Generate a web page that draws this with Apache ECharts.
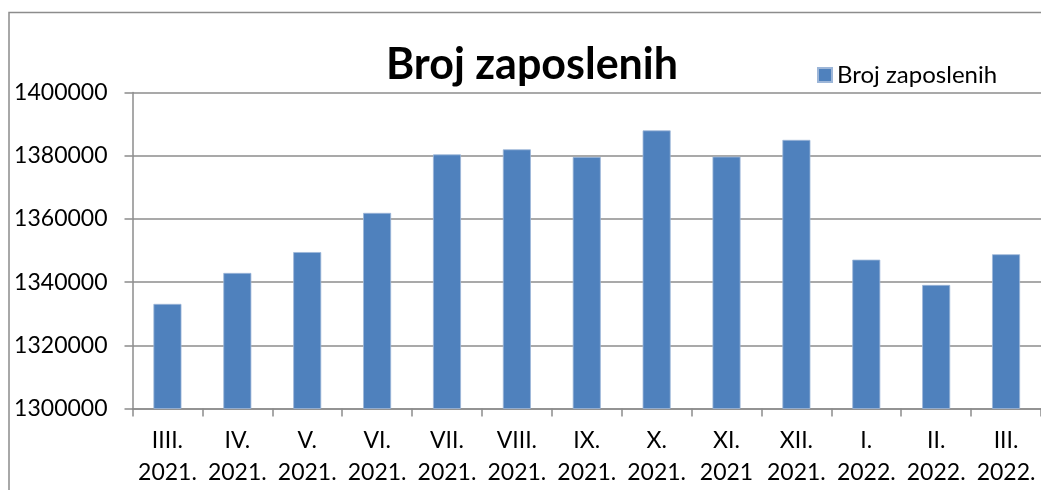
<!DOCTYPE html>
<html>
<head>
<meta charset="utf-8">
<script src="https://cdn.jsdelivr.net/npm/echarts@6/dist/echarts.min.js"></script>
<style>
html,body{margin:0;padding:0;background:#fff;}
#chart{width:1041px;height:490px;}
</style>
</head>
<body>
<div id="chart"></div>
<script>
const categories = ['IIII.\n2021.', 'IV.\n2021.', 'V.\n2021.', 'VI.\n2021.', 'VII.\n2021.', 'VIII.\n2021.', 'IX.\n2021.', 'X.\n2021.', 'XI.\n2021', 'XII.\n2021.', 'I.\n2022.', 'II.\n2022.', 'III.\n2022.'];
const seriesName = 'Broj zaposlenih';
const values = [1333100, 1342900, 1349500, 1361900, 1380400, 1382000, 1379600, 1388000, 1379700, 1385000, 1347100, 1339100, 1348800];
const yMin = 1300000;
const yMax = 1400000;
const yStep = 20000;

const FONT = 'Lato';
const chart = echarts.init(document.getElementById('chart'), null, {renderer: 'canvas'});
chart.setOption({
  backgroundColor: '#ffffff',
  animation: false,
  title: {
    text: 'Broj zaposlenih',
    left: 527,
    top: 39,
    textAlign: 'center',
    textStyle: {fontFamily: FONT, fontWeight: 'bold', fontSize: 43, color: '#000'}
  },
  legend: {
    data: [seriesName],
    left: 812,
    top: 58,
    itemWidth: 14,
    itemHeight: 14,
    itemGap: 8,
    icon: 'rect',
    textStyle: {fontFamily: FONT, fontSize: 24, color: '#000'}
  },
  graphic: [{
    type: 'rect',
    shape: {x: 9, y: 12.5, width: 1200, height: 700},
    style: {fill: 'none', stroke: '#8C8C8C', lineWidth: 1.5},
    silent: true,
    z: -1
  }],
  grid: {left: 132.5, top: 92.5, width: 914, height: 316, containLabel: false},
  xAxis: {
    type: 'category',
    data: categories,
    boundaryGap: true,
    axisLine: {show: true, lineStyle: {color: '#8C8C8C', width: 1.5}},
    axisTick: {show: true, inside: false, length: 8, alignWithLabel: false, lineStyle: {color: '#8C8C8C', width: 1.5}},
    axisLabel: {fontFamily: FONT, fontSize: 23, color: '#000', lineHeight: 32, margin: 16, interval: 0}
  },
  yAxis: {
    type: 'value',
    min: yMin,
    max: yMax,
    interval: yStep,
    axisLine: {show: true, lineStyle: {color: '#8C8C8C', width: 1.5}},
    axisTick: {show: true, inside: false, length: 8, lineStyle: {color: '#8C8C8C', width: 1.5}},
    splitLine: {show: true, lineStyle: {color: '#8C8C8C', width: 1.5}},
    axisLabel: {fontFamily: FONT, fontSize: 23, color: '#000', margin: 25, formatter: function (v) { return String(v); }}
  },
  series: [{
    name: seriesName,
    type: 'bar',
    data: values,
    barWidth: 28,
    itemStyle: {color: '#4F81BD', borderColor: '#9DB6D8', borderWidth: 0.8}
  }]
});
</script>
</body>
</html>
